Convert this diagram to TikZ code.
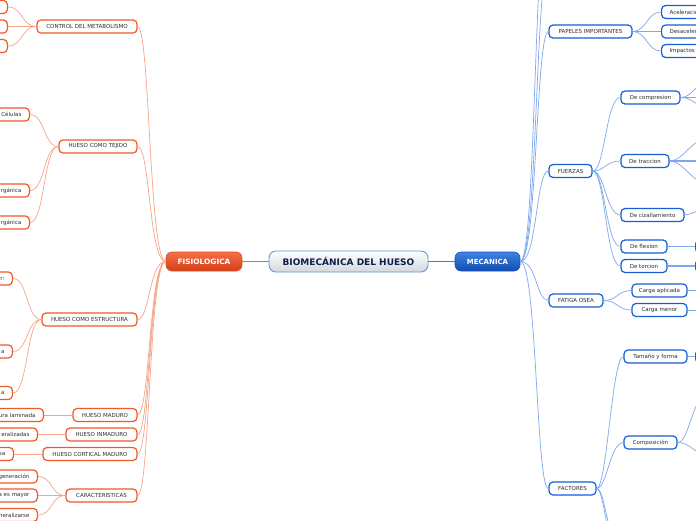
\documentclass[tikz,border=0pt]{standalone}
\usepackage{fontspec}
\setmainfont{DejaVu Sans}
\usetikzlibrary{shadings}
\definecolor{ob}{RGB}{240,88,40}
\definecolor{oline}{RGB}{247,165,135}
\definecolor{ostrong}{RGB}{238,100,60}
\definecolor{bb}{RGB}{22,94,210}
\definecolor{bline}{RGB}{125,168,236}
\definecolor{bstrong}{RGB}{60,125,220}
\definecolor{txt}{RGB}{45,45,45}
\definecolor{navy}{RGB}{15,30,75}
\tikzset{
  onode/.style={draw=ob, line width=1.2pt, rounded corners=4pt, fill=white, minimum height=13pt, inner sep=0pt, font=\fontsize{5.5}{6.5}\selectfont, text=txt},
  bnode/.style={draw=bb, line width=1.2pt, rounded corners=4pt, fill=white, minimum height=13pt, inner sep=0pt, font=\fontsize{5.5}{6.5}\selectfont, text=txt},
  oleaf/.style={onode, anchor=east, text width=56pt, align=right, inner xsep=8pt},
  bleaf/.style={bnode, anchor=west, text width=56pt, align=left, inner xsep=8pt},
  ocon/.style={draw=oline, line width=0.7pt},
  bcon/.style={draw=bline, line width=0.7pt},
  ocons/.style={draw=oline, line width=1.4pt},
  bcons/.style={draw=bline, line width=1.4pt},
  topnode/.style={rounded corners=6pt, minimum height=19pt, inner sep=0pt, text=white},
}
\begin{document}
\begin{tikzpicture}[x=1pt, y=-1pt]
\useasboundingbox (0,0) rectangle (696,520);
\clip (0,0) rectangle (696,520);
\fill[white] (0,0) rectangle (696,520);

% ---------- central ----------
\node[rounded corners=7pt, draw={rgb,255:red,95;green,155;blue,215}, line width=0.9pt, top color=white, bottom color={rgb,255:red,210;green,216;blue,222}, minimum width=159pt, minimum height=21pt, inner sep=0pt, text=navy, font=\fontsize{9}{10}\selectfont\bfseries] (cen) at (348.5,261.5) {BIOMECÁNICA DEL HUESO};
\node[topnode, draw={rgb,255:red,215;green,80;blue,40}, line width=0.6pt, top color={rgb,255:red,244;green,112;blue,70}, bottom color={rgb,255:red,212;green,62;blue,24}, minimum width=76pt, font=\fontsize{7.4}{8}\selectfont\bfseries] (fis) at (204,261.5) {FISIOLOGICA};
\node[topnode, draw={rgb,255:red,25;green,80;blue,180}, line width=0.6pt, top color={rgb,255:red,62;green,132;blue,228}, bottom color={rgb,255:red,18;green,76;blue,176}, minimum width=65pt, font=\fontsize{7}{8}\selectfont\bfseries] (mec) at (487.5,261.5) {MECANICA};
\draw[draw=ostrong, line width=0.8pt] (fis.east) -- (cen.west);
\draw[draw=bstrong, line width=0.8pt] (cen.east) -- (mec.west);

% ---------- left branch ----------
\node[onode, minimum width=100pt] (ctrl) at (87,26.5) {CONTROL DEL METABOLISMO};
\node[onode, minimum width=78pt] (tej) at (98,146.5) {HUESO COMO TEJIDO};
\node[onode, minimum width=95pt] (est) at (89.5,319.5) {HUESO COMO ESTRUCTURA};
\node[onode, minimum width=64pt] (mad) at (105,415) {HUESO MADURO};
\node[onode, minimum width=71pt] (inm) at (101.5,434.5) {HUESO INMADURO};
\node[onode, minimum width=94pt] (cort) at (90,454) {HUESO CORTICAL MADURO};
\node[onode, minimum width=71pt] (car) at (101.5,495.5) {CARACTERISTICAS};

\foreach \n in {ctrl,tej,est,mad,inm,cort,car}{
  \draw[ocon] (fis.west) .. controls (149,261.5) and (150,0|-\n.east) .. (\n.east);
}

% leaves left
\node[oleaf] (c1) at (8,7) {};
\node[oleaf] (c2) at (8,26.5) {};
\node[oleaf] (c3) at (8,46) {};
\node[oleaf] (t1) at (30,114.5) {Células};
\node[oleaf] (t2) at (30,190.5) {rgánica};
\node[oleaf] (t3) at (30,222.5) {rgánica};
\node[oleaf] (e1) at (13,278.5) {r:};
\node[oleaf] (e2) at (13,351.5) {a};
\node[oleaf] (e3) at (13,393) {a};
\node[oleaf] (m1) at (44,415) {ura laminada};
\node[oleaf] (i1) at (38,434.5) {eralizadas};
\node[oleaf] (k1) at (14,454) {sa};
\node[oleaf] (r1) at (38,476.5) {generación};
\node[oleaf] (r2) at (38,495.5) {a es mayor};
\node[oleaf] (r3) at (38,515) {neralizarse};

\draw[ocon] (ctrl.west) .. controls +(-15,0) and +(15,0) .. (c1.east);
\draw[ocons] (ctrl.west) -- (c2.east);
\draw[ocon] (ctrl.west) .. controls +(-15,0) and +(15,0) .. (c3.east);
\draw[ocon] (tej.west) .. controls +(-15,0) and +(15,0) .. (t1.east);
\draw[ocon] (tej.west) .. controls +(-15,0) and +(15,0) .. (t2.east);
\draw[ocon] (tej.west) .. controls +(-15,0) and +(15,0) .. (t3.east);
\draw[ocon] (est.west) .. controls +(-15,0) and +(15,0) .. (e1.east);
\draw[ocon] (est.west) .. controls +(-15,0) and +(15,0) .. (e2.east);
\draw[ocon] (est.west) .. controls +(-15,0) and +(15,0) .. (e3.east);
\draw[ocon] (mad.west) -- (m1.east);
\draw[ocons] (inm.west) -- (i1.east);
\draw[ocon] (cort.west) -- (k1.east);
\draw[ocon] (car.west) .. controls +(-15,0) and +(15,0) .. (r1.east);
\draw[ocons] (car.west) -- (r2.east);
\draw[ocon] (car.west) .. controls +(-15,0) and +(15,0) .. (r3.east);

% ---------- right branch ----------
\node[bnode, minimum width=83pt] (pap) at (590.5,31.5) {PAPELES IMPORTANTES};
\node[bnode, minimum width=43pt] (fue) at (570.5,171) {FUERZAS};
\node[bnode, minimum width=54pt] (fat) at (576,300.5) {FATIGA OSEA};
\node[bnode, minimum width=47pt] (fac) at (572.5,488.5) {FACTORES};
\coordinate (up1) at (549,-40);
\coordinate (up2) at (549,-95);

\foreach \n in {pap,fue,fat,fac}{
  \draw[bcon] (mec.east) .. controls (537,261.5) and (536,0|-\n.west) .. (\n.west);
}
\draw[bcon] (mec.east) .. controls (537,261.5) and (536,-40) .. (up1);
\draw[bcon] (mec.east) .. controls (536,261.5) and (534,-95) .. (up2);

% papeles leaves
\node[bleaf] (p1) at (661,12) {Aceleración};
\node[bleaf] (p2) at (661,31.5) {Desaceleración};
\node[bleaf] (p3) at (661,51) {Impactos};
\draw[bcon] (pap.east) .. controls +(14,0) and +(-14,0) .. (p1.west);
\draw[bcons] (pap.east) -- (p2.west);
\draw[bcon] (pap.east) .. controls +(14,0) and +(-14,0) .. (p3.west);

% fuerzas children
\node[bnode, minimum width=59pt] (com) at (650.5,97.5) {De compresion};
\node[bnode, minimum width=48pt] (tra) at (645,161) {De traccion};
\node[bnode, minimum width=63pt] (ciz) at (652.5,215) {De cizallamiento};
\node[bnode, minimum width=46pt] (fle) at (644,246.5) {De flexion};
\node[bnode, minimum width=46pt] (tor) at (644,266) {De torcion};
\foreach \n in {com,tra,ciz,fle,tor}{
  \draw[bcon] (fue.east) .. controls (605,171) and (606,0|-\n.west) .. (\n.west);
}
\coordinate (co1) at (712,78);
\coordinate (co2) at (712,97.5);
\coordinate (co3) at (712,112);
\draw[bcon] (com.east) .. controls +(12,0) and (696,82) .. (co1);
\draw[bcons] (com.east) -- (co2);
\draw[bcon] (com.east) .. controls +(12,0) and (696,106) .. (co3);
\coordinate (tr1) at (712,135);
\coordinate (tr2) at (712,161);
\coordinate (tr3) at (712,186);
\draw[bcon] (tra.east) .. controls +(14,0) and (690,140) .. (tr1);
\draw[bcons] (tra.east) -- (tr2);
\draw[bcon] (tra.east) .. controls +(14,0) and (690,182) .. (tr3);
\coordinate (ci1) at (712,209);
\draw[bcon] (ciz.east) .. controls +(6,0) and (694,210) .. (ci1);
\node[bleaf] (fl1) at (695,246.5) {};
\node[bleaf] (to1) at (695,266) {};
\draw[bcons] (fle.east) -- (fl1.west);
\draw[bcons] (tor.east) -- (to1.west);

% fatiga
\node[bnode, minimum width=55pt] (cap) at (659.5,290.5) {Carga aplicada};
\node[bnode, minimum width=55pt] (cme) at (659.5,310) {Carga menor};
\draw[bcon] (fat.east) .. controls +(14,0) and +(-14,0) .. (cap.west);
\draw[bcon] (fat.east) .. controls +(14,0) and +(-14,0) .. (cme.west);
\coordinate (ca1) at (712,290.5);
\coordinate (cm1) at (712,310);
\draw[bcon] (cap.east) -- (ca1);
\draw[bcon] (cme.east) -- (cm1);

% factores
\node[bnode, minimum width=63pt] (tam) at (655.5,356.5) {Tamaño y forma};
\node[bnode, minimum width=53pt] (cmp) at (650.5,442.5) {Composición};
\coordinate (fd1) at (626,548);
\coordinate (fd2) at (628,580);
\draw[bcon] (fac.east) .. controls (607,488.5) and (612,0|-tam.west) .. (tam.west);
\draw[bcon] (fac.east) .. controls (607,488.5) and (610,0|-cmp.west) .. (cmp.west);
\draw[bcon] (fac.east) .. controls (606,488.5) and (606,548) .. (fd1);
\draw[bcon] (fac.east) .. controls (606,488.5) and (609,580) .. (fd2);
\node[bleaf] (ta1) at (695,356.5) {};
\draw[bcons] (tam.east) -- (ta1.west);
\coordinate (cp1) at (712,385);
\coordinate (cp2) at (712,458);
\draw[bcon] (cmp.east) .. controls +(12,0) and (690,400) .. (cp1);
\draw[bcon] (cmp.east) .. controls +(12,0) and (692,452) .. (cp2);
\end{tikzpicture}
\end{document}
